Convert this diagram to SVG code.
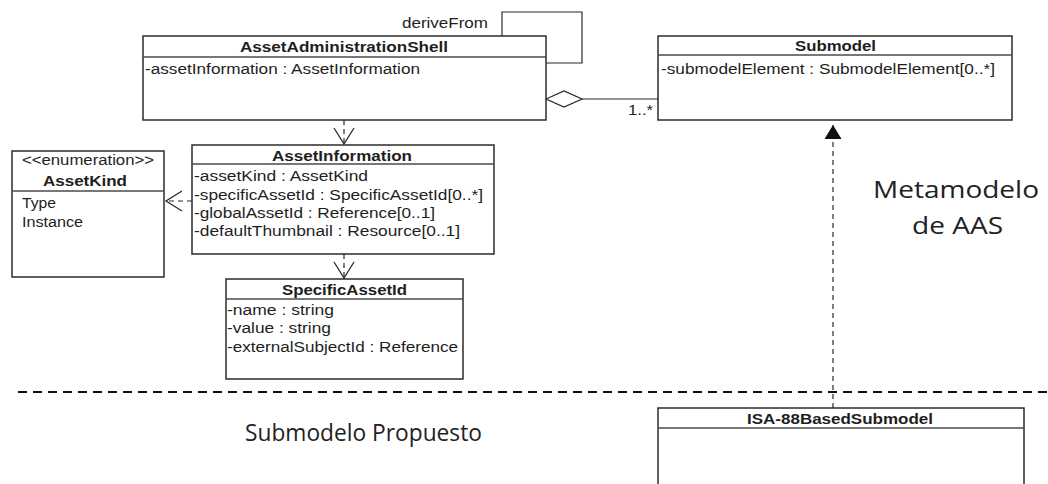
<svg xmlns="http://www.w3.org/2000/svg" width="1048" height="484" viewBox="0 0 1048 484">
  <style>
    .box { fill: #ffffff; stroke: #2b2b2b; stroke-width: 1.5; }
    .sep { stroke: #4a4a4a; stroke-width: 1.6; }
    .t { font-family: "Liberation Sans", Arial, sans-serif; font-size: 14px; fill: #1e1e1e; }
    .b { font-weight: bold; }
    .big { font-family: "Open Sans", "Noto Sans", sans-serif; font-size: 24px; fill: #222222; }
    .line { fill: none; stroke: #2b2b2b; stroke-width: 1.2; }
    .dep { fill: none; stroke: #2b2b2b; stroke-width: 1.2; stroke-dasharray: 5 4; }
  </style>
  <defs>
    <marker id="openArrow" viewBox="0 0 20 24" refX="18" refY="12" markerWidth="20" markerHeight="24" markerUnits="userSpaceOnUse" orient="auto">
      <path d="M2,2 L18,12 L2,22" fill="none" stroke="#2b2b2b" stroke-width="1.3"/>
    </marker>
    <marker id="filledArrow" viewBox="0 0 14 18" refX="14" refY="9" markerWidth="14" markerHeight="18" markerUnits="userSpaceOnUse" orient="auto">
      <path d="M0,0.5 L14,9 L0,17.5 Z" fill="#111111"/>
    </marker>
  </defs>

  <rect width="1048" height="484" fill="#ffffff"/>

  <!-- connectors -->
  <g id="connectors">
    <!-- deriveFrom self association -->
    <polyline class="line" points="502,36 502,12 582,12 582,63 546,63"/>
    <text class="t" x="402" y="28" textLength="86" lengthAdjust="spacingAndGlyphs">deriveFrom</text>
    <!-- aggregation AAS <> Submodel -->
    <line class="line" x1="582" y1="99" x2="658" y2="99"/>
    <polygon points="546,99 564,91 582,99 564,107" fill="#ffffff" stroke="#2b2b2b" stroke-width="1.3"/>
    <text class="t" x="628" y="115" textLength="25" lengthAdjust="spacingAndGlyphs">1..*</text>
    <!-- dependencies -->
    <line class="dep" x1="344" y1="120" x2="344" y2="144" marker-end="url(#openArrow)"/>
    <line class="dep" x1="192" y1="201" x2="166" y2="201" marker-end="url(#openArrow)"/>
    <line class="dep" x1="344" y1="254" x2="344" y2="278" marker-end="url(#openArrow)"/>
    <!-- ISA-88 submodel realizes Submodel -->
    <line class="dep" x1="833" y1="408" x2="833" y2="125" marker-end="url(#filledArrow)"/>
  </g>

  <!-- divider between metamodel and proposed submodel -->
  <line x1="18" y1="392" x2="1048" y2="392" stroke="#111111" stroke-width="2" stroke-dasharray="9 6"/>

  <g id="AssetAdministrationShell">
    <rect class="box" x="143" y="36" width="403" height="84"/>
    <line class="sep" x1="143" y1="57" x2="546" y2="57"/>
    <text class="t b" x="240" y="52" textLength="208" lengthAdjust="spacingAndGlyphs">AssetAdministrationShell</text>
    <text class="t" x="145" y="74" textLength="275" lengthAdjust="spacingAndGlyphs">-assetInformation : AssetInformation</text>
  </g>

  <g id="Submodel">
    <rect class="box" x="658" y="36" width="354" height="84"/>
    <line class="sep" x1="658" y1="55" x2="1012" y2="55"/>
    <text class="t b" x="795" y="51" textLength="81" lengthAdjust="spacingAndGlyphs">Submodel</text>
    <text class="t" x="661" y="74" textLength="334" lengthAdjust="spacingAndGlyphs">-submodelElement : SubmodelElement[0..*]</text>
  </g>

  <g id="AssetKind">
    <rect class="box" x="12" y="151" width="152" height="126"/>
    <line class="sep" x1="12" y1="191" x2="164" y2="191"/>
    <text class="t" x="22" y="165" textLength="132" lengthAdjust="spacingAndGlyphs">&lt;&lt;enumeration&gt;&gt;</text>
    <text class="t b" x="43" y="186" textLength="84" lengthAdjust="spacingAndGlyphs">AssetKind</text>
    <text class="t" x="22" y="208" textLength="34" lengthAdjust="spacingAndGlyphs">Type</text>
    <text class="t" x="22" y="227" textLength="61" lengthAdjust="spacingAndGlyphs">Instance</text>
  </g>

  <g id="AssetInformation">
    <rect class="box" x="192" y="145" width="302" height="109"/>
    <line class="sep" x1="192" y1="164" x2="494" y2="164"/>
    <text class="t b" x="272" y="161" textLength="140" lengthAdjust="spacingAndGlyphs">AssetInformation</text>
    <text class="t" x="194" y="181" textLength="174" lengthAdjust="spacingAndGlyphs">-assetKind : AssetKind</text>
    <text class="t" x="194" y="200" textLength="289" lengthAdjust="spacingAndGlyphs">-specificAssetId : SpecificAssetId[0..*]</text>
    <text class="t" x="194" y="218" textLength="241" lengthAdjust="spacingAndGlyphs">-globalAssetId : Reference[0..1]</text>
    <text class="t" x="194" y="236" textLength="266" lengthAdjust="spacingAndGlyphs">-defaultThumbnail : Resource[0..1]</text>
  </g>

  <g id="SpecificAssetId">
    <rect class="box" x="226" y="279" width="237" height="100"/>
    <line class="sep" x1="226" y1="299" x2="463" y2="299"/>
    <text class="t b" x="282" y="295" textLength="125" lengthAdjust="spacingAndGlyphs">SpecificAssetId</text>
    <text class="t" x="227" y="315" textLength="107" lengthAdjust="spacingAndGlyphs">-name : string</text>
    <text class="t" x="227" y="333" textLength="104" lengthAdjust="spacingAndGlyphs">-value : string</text>
    <text class="t" x="227" y="352" textLength="231" lengthAdjust="spacingAndGlyphs">-externalSubjectId : Reference</text>
  </g>

  <g id="ISA-88BasedSubmodel">
    <rect class="box" x="658" y="408" width="366" height="90"/>
    <line class="sep" x1="658" y1="428" x2="1024" y2="428"/>
    <text class="t b" x="747" y="424" textLength="186" lengthAdjust="spacingAndGlyphs">ISA-88BasedSubmodel</text>
  </g>

  <!-- region labels -->
  <text class="big" x="873" y="198" textLength="166" lengthAdjust="spacingAndGlyphs">Metamodelo</text>
  <text class="big" x="912" y="234" textLength="91" lengthAdjust="spacingAndGlyphs">de AAS</text>
  <text class="big" x="245" y="441" textLength="237" lengthAdjust="spacingAndGlyphs">Submodelo Propuesto</text>
</svg>
